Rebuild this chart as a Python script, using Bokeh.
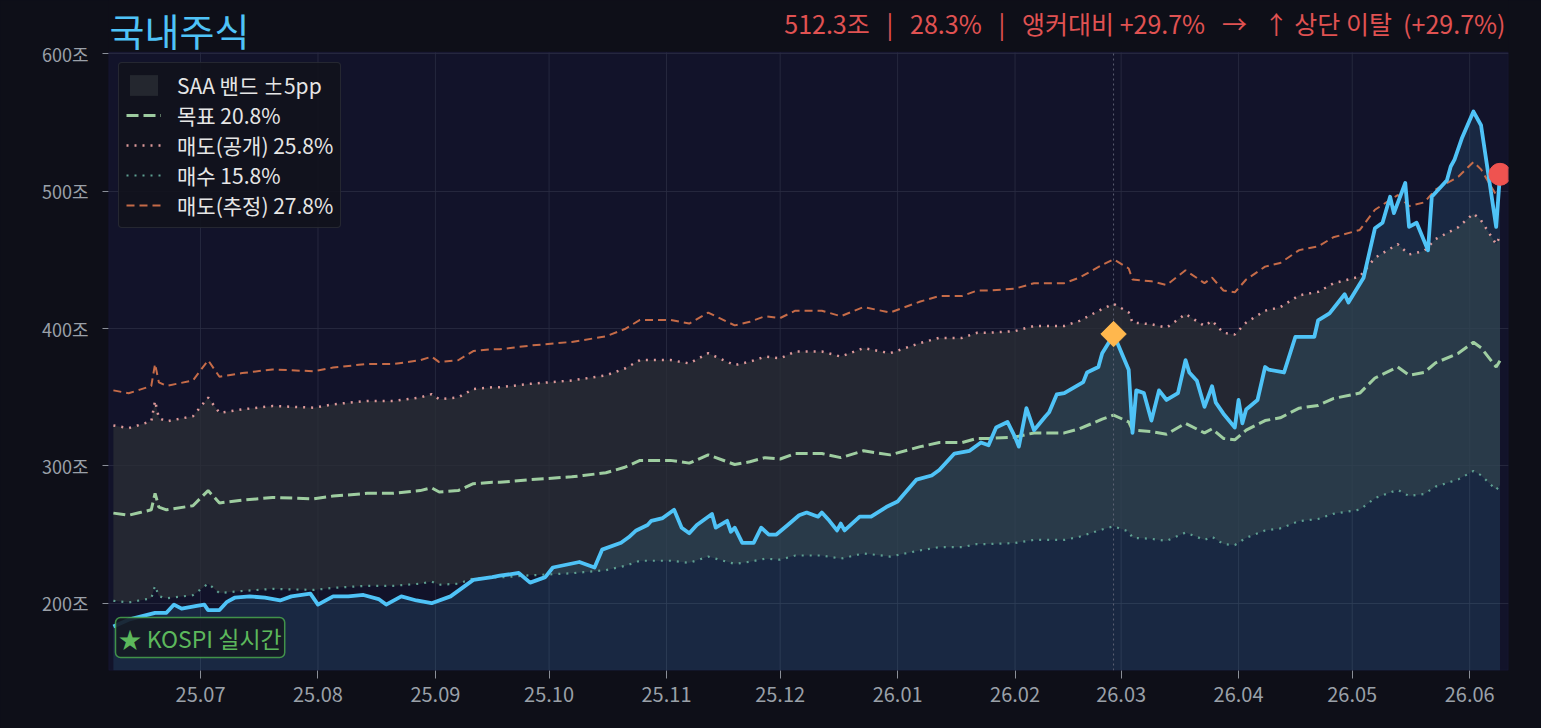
import math
import pandas as pd
from bokeh.plotting import figure
from bokeh.models import (Range1d, FixedTicker, PrintfTickFormatter, MonthsTicker,
                          DatetimeTickFormatter, Label, Legend, LegendItem,
                          ColumnDataSource, BoxAnnotation)
from bokeh.embed import file_html
from bokeh.resources import INLINE

FONT = "Noto Sans CJK KR"

# ---------------- data (조 원) ----------------
kospi_dates = [
    "2025-06-08", "2025-06-12", "2025-06-19", "2025-06-22", "2025-06-24", "2025-06-26",
    "2025-06-30", "2025-07-02", "2025-07-03", "2025-07-06", "2025-07-08", "2025-07-10",
    "2025-07-14", "2025-07-18", "2025-07-22", "2025-07-25", "2025-07-30", "2025-08-01",
    "2025-08-05", "2025-08-09", "2025-08-13", "2025-08-17", "2025-08-19", "2025-08-23",
    "2025-08-27", "2025-08-31", "2025-09-05", "2025-09-08", "2025-09-11", "2025-09-16",
    "2025-09-18", "2025-09-23", "2025-09-26", "2025-09-30", "2025-10-02", "2025-10-09",
    "2025-10-13", "2025-10-15", "2025-10-20", "2025-10-22", "2025-10-24", "2025-10-27",
    "2025-10-28", "2025-10-31", "2025-11-03", "2025-11-05", "2025-11-07", "2025-11-09",
    "2025-11-13", "2025-11-14", "2025-11-17", "2025-11-18", "2025-11-19", "2025-11-21",
    "2025-11-24", "2025-11-26", "2025-11-28", "2025-11-30", "2025-12-03", "2025-12-06",
    "2025-12-08", "2025-12-11", "2025-12-12", "2025-12-14", "2025-12-16", "2025-12-17",
    "2025-12-18", "2025-12-22", "2025-12-25", "2025-12-29", "2026-01-01", "2026-01-06",
    "2026-01-10", "2026-01-12", "2026-01-16", "2026-01-20", "2026-01-23", "2026-01-25",
    "2026-01-27", "2026-01-30", "2026-02-01", "2026-02-02", "2026-02-04", "2026-02-06",
    "2026-02-09", "2026-02-10", "2026-02-12", "2026-02-14", "2026-02-19", "2026-02-20",
    "2026-02-23", "2026-02-24", "2026-02-26", "2026-02-27", "2026-03-03", "2026-03-04",
    "2026-03-05", "2026-03-07", "2026-03-09", "2026-03-11", "2026-03-13", "2026-03-16",
    "2026-03-18", "2026-03-19", "2026-03-21", "2026-03-23", "2026-03-25", "2026-03-26",
    "2026-03-28", "2026-03-31", "2026-04-01", "2026-04-02", "2026-04-03", "2026-04-06",
    "2026-04-08", "2026-04-09", "2026-04-13", "2026-04-16", "2026-04-21", "2026-04-22",
    "2026-04-25", "2026-04-29", "2026-04-30", "2026-05-04", "2026-05-07", "2026-05-09",
    "2026-05-11", "2026-05-12", "2026-05-15", "2026-05-16", "2026-05-18", "2026-05-21",
    "2026-05-22", "2026-05-26", "2026-05-27", "2026-05-28", "2026-05-30", "2026-06-02",
    "2026-06-04", "2026-06-08", "2026-06-09",
]
kospi_values = [
    183, 188, 193, 193, 199, 196,
    198, 199, 195, 195, 201, 204,
    205, 204, 202, 205, 207, 199,
    205, 205, 206, 203, 199, 205,
    202, 200, 205, 211, 217, 219,
    220, 222, 215, 219, 226, 230,
    226, 239, 244, 248, 253, 257,
    260, 262, 268, 255, 251, 257,
    265, 255, 260, 252, 255, 244,
    244, 255, 250, 250, 257, 264,
    266, 263, 266, 260, 253, 258,
    253, 263, 263, 270, 274, 290,
    293, 297, 309, 311, 317, 315,
    328, 332, 321, 314, 342, 326,
    336, 339, 352, 353, 361, 368,
    372, 382, 391, 396, 370, 324,
    355, 353, 333, 355, 348, 353,
    377, 368, 362, 343, 358, 346,
    338, 328, 348, 331, 341, 348,
    372, 370, 368, 394, 394, 406,
    411, 425, 419, 437, 473, 477,
    496, 484, 506, 474, 477, 457,
    496, 508, 518, 523, 539, 558,
    548, 474, 512.3,
]

band_dates = [
    "2025-06-08", "2025-06-12", "2025-06-15", "2025-06-18", "2025-06-19", "2025-06-20",
    "2025-06-22", "2025-06-29", "2025-07-03", "2025-07-06", "2025-07-12", "2025-07-20",
    "2025-07-31", "2025-08-05", "2025-08-14", "2025-08-21", "2025-08-28", "2025-08-31",
    "2025-09-02", "2025-09-07", "2025-09-11", "2025-09-16", "2025-09-18", "2025-09-26",
    "2025-10-07", "2025-10-10", "2025-10-16", "2025-10-21", "2025-10-25", "2025-11-02",
    "2025-11-07", "2025-11-12", "2025-11-19", "2025-11-23", "2025-11-27", "2025-12-01",
    "2025-12-05", "2025-12-12", "2025-12-17", "2025-12-23", "2025-12-30", "2026-01-07",
    "2026-01-12", "2026-01-18", "2026-01-22", "2026-01-25", "2026-02-01", "2026-02-06",
    "2026-02-14", "2026-02-18", "2026-02-24", "2026-02-27", "2026-03-03", "2026-03-04",
    "2026-03-09", "2026-03-13", "2026-03-18", "2026-03-23", "2026-03-25", "2026-03-28",
    "2026-03-31", "2026-04-03", "2026-04-08", "2026-04-12", "2026-04-17", "2026-04-22",
    "2026-04-26", "2026-05-03", "2026-05-07", "2026-05-13", "2026-05-16", "2026-05-20",
    "2026-05-23", "2026-05-29", "2026-06-02", "2026-06-04", "2026-06-08", "2026-06-09",
]
# 목표 비중(20.8%) 라인 값
target_values = [
    265.6, 264, 266, 268, 280, 270,
    268, 271, 282, 273, 275, 277,
    276, 278, 280, 280, 282, 284,
    281, 282, 287, 288, 288, 290,
    292, 293, 295, 299, 304, 304,
    302, 308, 301, 303, 306, 305,
    309, 309, 306, 311, 308, 314,
    317, 317, 320, 320, 321, 324,
    324, 327, 334, 337, 332, 326,
    325, 323, 331, 324, 327, 320,
    319, 326, 333, 335, 342, 344,
    349, 353, 364, 372, 366, 368,
    375, 382, 390, 386, 372, 376.6,
]

TARGET_PCT = 20.8
SELL_PCT = 25.8
BUY_PCT = 15.8
SELL_EST_PCT = 27.8

marker_date = "2026-02-27"
marker_value = 396
last_date = "2026-06-09"
last_value = 512.3

y_ticks = [200, 300, 400, 500, 600]
y_start, y_end = 151, 601
x_start, x_end = "2025-06-06 17:00", "2026-06-11 06:00"
month_ticks = pd.date_range("2025-07-01", "2026-06-01", freq="MS")

title_text = "국내주식"
NB = "\u00a0"
status_text = ("512.3조" + NB * 3 + "|" + NB * 3 + "28.3%" + NB * 3 + "|" + NB * 3 +
               "앵커대비 +29.7%" + NB * 3 + "→" + NB * 3 + "↑ 상단 이탈" + NB * 2 + "(+29.7%)")
badge_text = "★ KOSPI 실시간"

# ---------------- derived sources ----------------
kdf = pd.DataFrame({"date": pd.to_datetime(kospi_dates), "value": kospi_values})
kdf["base"] = y_start
ksrc = ColumnDataSource(kdf)

bdf = pd.DataFrame({"date": pd.to_datetime(band_dates), "target": target_values})
total = bdf["target"] / (TARGET_PCT / 100.0)
bdf["sell"] = total * SELL_PCT / 100.0
bdf["buy"] = total * BUY_PCT / 100.0
bdf["sell_est"] = total * SELL_EST_PCT / 100.0
bsrc = ColumnDataSource(bdf)

# ---------------- layout geometry ----------------
BG = "#0e0f18"
PLOT_BG = "#12132a"
W, H = 1541, 728
HEAD_PX = 52        # title strip above the chart area
CHART_PX = 618      # chart area height
BOTTOM_PX = H - HEAD_PX - CHART_PX
LEGEND_PX = 166     # legend box height
y_view_top = y_end + HEAD_PX * (y_end - y_start) / CHART_PX

p = figure(width=W, height=H, x_axis_type="datetime",
           x_range=Range1d(pd.Timestamp(x_start), pd.Timestamp(x_end)),
           y_range=Range1d(y_start, y_view_top),
           output_backend="svg", toolbar_location=None,
           background_fill_color=BG, border_fill_color=BG,
           min_border_left=108, min_border_right=33, min_border_bottom=BOTTOM_PX,
           min_border_top=0)
p.outline_line_color = None

# chart area background + frame
p.add_layout(BoxAnnotation(top=y_end, fill_color=PLOT_BG, fill_alpha=1.0,
                           line_color=None, level="image"))
p.add_layout(BoxAnnotation(top=y_end, fill_alpha=0.0, line_color="#2c2b58",
                           line_width=1.5, level="overlay"))

for ax in (p.xaxis[0], p.yaxis[0]):
    ax.axis_line_color = None
    ax.major_tick_line_color = "#8a8f98"
    ax.major_tick_in = 0
    ax.minor_tick_line_color = None
    ax.major_label_text_color = "#9aa0a8"
    ax.major_label_text_font = FONT

p.yaxis.major_label_text_font_size = "18px"
p.xaxis.major_label_text_font_size = "20px"
p.yaxis.major_tick_out = 6
p.xaxis.major_tick_out = 8
p.yaxis.ticker = FixedTicker(ticks=y_ticks)
p.yaxis.formatter = PrintfTickFormatter(format="%d조")
p.yaxis.major_label_standoff = 14
p.xaxis.ticker = MonthsTicker(months=list(range(1, 13)))
p.xaxis.formatter = DatetimeTickFormatter(months="%y.%m", days="%y.%m", years="%y.%m")
p.xaxis.major_label_standoff = 8

GRID = "#2a2d42"
p.xgrid.visible = False
p.ygrid.grid_line_color = GRID
p.ygrid.grid_line_alpha = 0.8
p.segment(x0=month_ticks, y0=y_start, x1=month_ticks, y1=y_end,
          line_color=GRID, line_alpha=0.8, line_width=1)

band_r = p.varea(x="date", y1="buy", y2="sell", source=bsrc,
                 fill_color="#2b2f36", fill_alpha=0.75)
p.varea(x="date", y1="base", y2="value", source=ksrc,
        fill_color="#4fc3f7", fill_alpha=0.12)

sell_est_r = p.line(x="date", y="sell_est", source=bsrc, line_color="#d0704a",
                    line_width=2, line_dash="8 5", line_alpha=0.95)
sell_r = p.line(x="date", y="sell", source=bsrc, line_color="#e8a0a0",
                line_width=2.5, line_dash="2 6", line_alpha=0.95)
buy_r = p.line(x="date", y="buy", source=bsrc, line_color="#62a596",
               line_width=2.2, line_dash="2 6", line_alpha=0.95)
target_r = p.line(x="date", y="target", source=bsrc, line_color="#a5d6a7",
                  line_width=3, line_dash="12 5", line_alpha=0.95)

# marker date dotted vertical line
p.segment(x0=[pd.Timestamp(marker_date)], y0=[y_start], x1=[pd.Timestamp(marker_date)],
          y1=[y_end], line_color="#6a6e80", line_dash="2 3", line_width=1, line_alpha=0.8)

p.line(x="date", y="value", source=ksrc, line_color="#4fc3f7", line_width=3.8,
       line_join="round")

p.scatter(x=[pd.Timestamp(marker_date)], y=[marker_value], marker="square",
          angle=math.pi / 4, size=18, fill_color="#ffb74d", line_color="#ffb74d")
p.scatter(x=[pd.Timestamp(last_date)], y=[last_value], marker="circle",
          size=22, fill_color="#ef5350", line_color="#ef5350")

legend = Legend(items=[
    LegendItem(label="SAA 밴드 ±5pp", renderers=[band_r]),
    LegendItem(label="목표 20.8%", renderers=[target_r]),
    LegendItem(label="매도(공개) 25.8%", renderers=[sell_r]),
    LegendItem(label="매수 15.8%", renderers=[buy_r]),
    LegendItem(label="매도(추정) 27.8%", renderers=[sell_est_r]),
], location=(10, CHART_PX - 10 - LEGEND_PX))
legend.margin = 0
legend.padding = 7
legend.spacing = 0
legend.glyph_width = 35
legend.glyph_height = 26
legend.label_standoff = 16
legend.label_text_font = FONT
legend.label_text_font_size = "21px"
legend.label_text_color = "#e6e6e6"
legend.background_fill_color = "#11121c"
legend.background_fill_alpha = 0.92
legend.border_line_color = "#3a3d46"
legend.border_line_width = 1.5
legend.border_radius = 4
p.add_layout(legend)

# title and status in the top strip
p.add_layout(Label(x=1, y=CHART_PX + HEAD_PX - 29, x_units="screen", y_units="screen",
                   text=title_text, text_align="left", text_baseline="middle",
                   text_color="#4fc3f7", text_font=FONT, text_font_size="38px"))
p.add_layout(Label(x=1397, y=CHART_PX + HEAD_PX - 22, x_units="screen", y_units="screen",
                   text=status_text, text_align="right", text_baseline="middle",
                   text_color="#e05252", text_font=FONT, text_font_size="25px"))

# badge
p.add_layout(Label(x=7, y=13, x_units="screen", y_units="screen",
                   text=badge_text, anchor="bottom_left",
                   text_color="#5cb85c", text_font=FONT, text_font_size="23px",
                   padding=3, border_line_color="#4caf50", border_line_width=1.5,
                   border_line_alpha=0.8, border_radius=5,
                   background_fill_color="#151a24", background_fill_alpha=0.9))

html = file_html(p, INLINE, title="국내주식")
html = html.replace("</head>",
                    "<style>html,body{margin:0;padding:0;overflow:hidden;background:%s;}</style></head>" % BG, 1)
open("out.html", "w").write(html)
